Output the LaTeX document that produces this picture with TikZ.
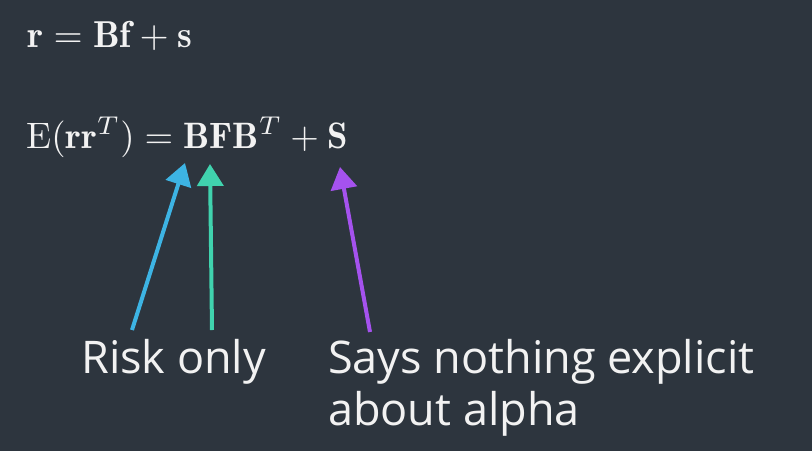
\documentclass[tikz,border=0pt]{standalone}
\usepackage{graphicx}
\usepackage{fontspec}
\newfontfamily\labelfont{Open Sans}
\usetikzlibrary{arrows.meta}
\definecolor{bg}{HTML}{2D353E}
\definecolor{txt}{HTML}{F2F2F2}
\definecolor{ablue}{HTML}{3DB4E4}
\definecolor{agreen}{HTML}{40D3AE}
\definecolor{apurple}{HTML}{A552EE}
\tikzset{
  eq/.style={anchor=base west, inner sep=0pt, text=txt},
  lbl/.style={anchor=base west, inner sep=0pt, text=txt, font=\labelfont\fontsize{45}{52}\selectfont},
  pointer/.style={line width=4pt, -{Triangle[width=26pt,length=22pt]}}
}
\begin{document}
\begin{tikzpicture}[x=1pt,y=-1pt]
\fill[bg] (0,0) rectangle (812,451);
\useasboundingbox (0,0) rectangle (812,451);
\node[eq] (eqa) at (27,47) {\scalebox{3.75}{$\mathbf{r}=\mathbf{B}\mathbf{f}+\mathbf{s}$}};
\node[eq] (eqb) at (26,148) {\scalebox{3.68}{$\mathrm{E}(\mathbf{r}\mathbf{r}^{T})=\mathbf{B}\mathbf{F}\mathbf{B}^{T}+\mathbf{S}$}};
\node[lbl] (risk) at (81,373) {Risk only};
\node[lbl] (says) at (328,373) {Says nothing explicit};
\node[lbl] (alpha) at (328,425) {about alpha};
\coordinate (bt) at (132,330);
\coordinate (bh) at (185,163);
\coordinate (gt) at (212,330);
\coordinate (gh) at (210,164);
\coordinate (pt) at (370,332);
\coordinate (ph) at (340,167);
\draw[pointer, ablue] (bt) -- (bh);
\draw[pointer, agreen] (gt) -- (gh);
\draw[pointer, apurple] (pt) -- (ph);
\end{tikzpicture}
\end{document}
